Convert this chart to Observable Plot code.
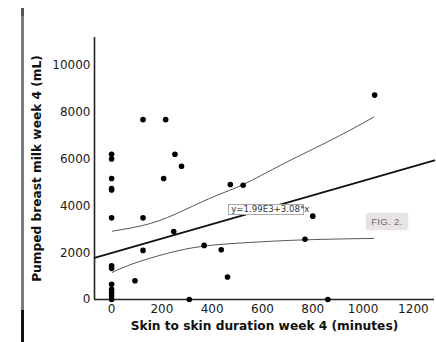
<!DOCTYPE html>
<html>
<head>
<meta charset="utf-8">
<script src="https://cdn.jsdelivr.net/npm/d3@7"></script>
<script src="https://cdn.jsdelivr.net/npm/@observablehq/plot@0.6"></script>
<style>
  html, body { margin: 0; padding: 0; background: #fff; }
  #wrap { position: relative; width: 436px; height: 342px; overflow: hidden; font-family: "DejaVu Sans", sans-serif; }
  #scanbar { position: absolute; left: 21px; top: 8px; width: 3px; height: 334px; background: linear-gradient(#555 0, #555 8px, #7a7a7a 8px, #7a7a7a 302px, #111 302px, #111 100%); }
  .eq { position: absolute; box-sizing: border-box; border: 1px solid #a8a8a8; background: #fff; color: #333; font-size: 8.6px; line-height: 9px; padding: 0 1px 0 2px; white-space: nowrap; }
  .fig { position: absolute; box-sizing: border-box; background: #e8e4e4; color: #6a6a6a; border-radius: 3px; box-shadow: 0 0 2px rgba(0,0,0,0.12); font-size: 9.5px; text-align: center; line-height: 17px; letter-spacing: 0.3px; font-family: "Liberation Sans", sans-serif; }
</style>
</head>
<body>
<div id="wrap"><div id="scanbar"></div></div>
<script>
// ---- data ----
const skinMinutes = [0, 0, 0, 0, 0, 0, 0, 0, 0, 0, 0, 0, 0,
  93, 125, 125, 125, 207, 215, 247, 252, 278, 309, 368, 436, 461, 472, 523, 769, 800, 860, 1046];
const milkML = [6205, 6005, 5168, 4740, 4680, 3489, 1441, 1330, 648, 435, 290, 150, 0,
  802, 7684, 3489, 2098, 5168, 7684, 2907, 6205, 5693, 0, 2311, 2124, 959, 4912, 4883, 2575, 3561, 0, 8734];

// regression (as printed on the chart)
const fitIntercept = 1990;
const fitSlope = 3.08;
const fitLabel = "y=1.99E3+3.08*x";

// confidence band
const upperX = [3, 155, 288, 420, 526, 685, 884, 1043];
const upperY = [2920, 3250, 3817, 4456, 4925, 5808, 6874, 7796];
const lowerX = [3, 89, 221, 367, 553, 771, 1043];
const lowerY = [1160, 1544, 1970, 2281, 2439, 2550, 2610];

const xTicks = [0, 200, 400, 600, 800, 1000, 1200];
const yTicks = [0, 2000, 4000, 6000, 8000, 10000];
const xDomain = [-68, 1284];
const yDomain = [0, 11194];

const xTitle = "Skin to skin duration week 4 (minutes)";
const yTitle = "Pumped breast milk week 4 (mL)";
const figLabel = "FIG. 2.";

// label anchor positions (data units, top-left corners)
const eqAt = {x: 466, y: 4060};
const figAt = {x: 1013, y: 3680};

// ---- build ----
const points = skinMinutes.map((x, i) => ({x, y: milkML[i]}));
const upper = upperX.map((x, i) => ({x, y: upperY[i]}));
const lower = lowerX.map((x, i) => ({x, y: lowerY[i]}));
const fitLine = xDomain.map(x => ({x, y: fitIntercept + fitSlope * x}));
const plain = d => String(d);

const chart = Plot.plot({
  width: 436,
  height: 342,
  marginLeft: 94,
  marginRight: 2,
  marginTop: 37,
  marginBottom: 43,
  style: {fontFamily: "DejaVu Sans, sans-serif", background: "transparent", overflow: "visible"},
  x: {domain: xDomain},
  y: {domain: yDomain},
  marks: [
    Plot.axisX({ticks: xTicks, tickFormat: plain, tickSize: 0, tickPadding: 5, fontSize: 12, fill: "#1a1a1a", label: null}),
    Plot.axisY({ticks: yTicks, tickFormat: plain, tickSize: 0, tickPadding: 4, fontSize: 12, fill: "#1a1a1a", label: null}),
    Plot.ruleY([0], {stroke: "#222", strokeWidth: 1.6}),
    Plot.ruleX([xDomain[0]], {stroke: "#222", strokeWidth: 1.6}),
    Plot.line(upper, {x: "x", y: "y", curve: "natural", stroke: "#555", strokeWidth: 1}),
    Plot.line(lower, {x: "x", y: "y", curve: "natural", stroke: "#555", strokeWidth: 1}),
    Plot.line(fitLine, {x: "x", y: "y", stroke: "#111", strokeWidth: 1.7}),
    Plot.dot(points, {x: "x", y: "y", r: 2.8, fill: "#000", stroke: "none"}),
    Plot.text([xTitle], {frameAnchor: "bottom", textAnchor: "middle", dy: 30, fontSize: 12.2, fontWeight: "bold", fill: "#111"}),
    Plot.text([yTitle], {frameAnchor: "left", textAnchor: "middle", dx: -57, rotate: -90, fontSize: 12.2, fontWeight: "bold", fill: "#111"})
  ]
});

const wrap = document.getElementById("wrap");
chart.style.position = "absolute";
chart.style.left = "0px";
chart.style.top = "0px";
wrap.appendChild(chart);

const sx = chart.scale("x"), sy = chart.scale("y");
const eq = document.createElement("div");
eq.className = "eq";
eq.textContent = fitLabel;
eq.style.left = sx.apply(eqAt.x) + "px";
eq.style.top = sy.apply(eqAt.y) + "px";
eq.style.width = "76px";
eq.style.height = "11px";
wrap.appendChild(eq);

const fig = document.createElement("div");
fig.className = "fig";
fig.textContent = figLabel;
fig.style.left = sx.apply(figAt.x) + "px";
fig.style.top = sy.apply(figAt.y) + "px";
fig.style.width = "42px";
fig.style.height = "17px";
wrap.appendChild(fig);
</script>
</body>
</html>
